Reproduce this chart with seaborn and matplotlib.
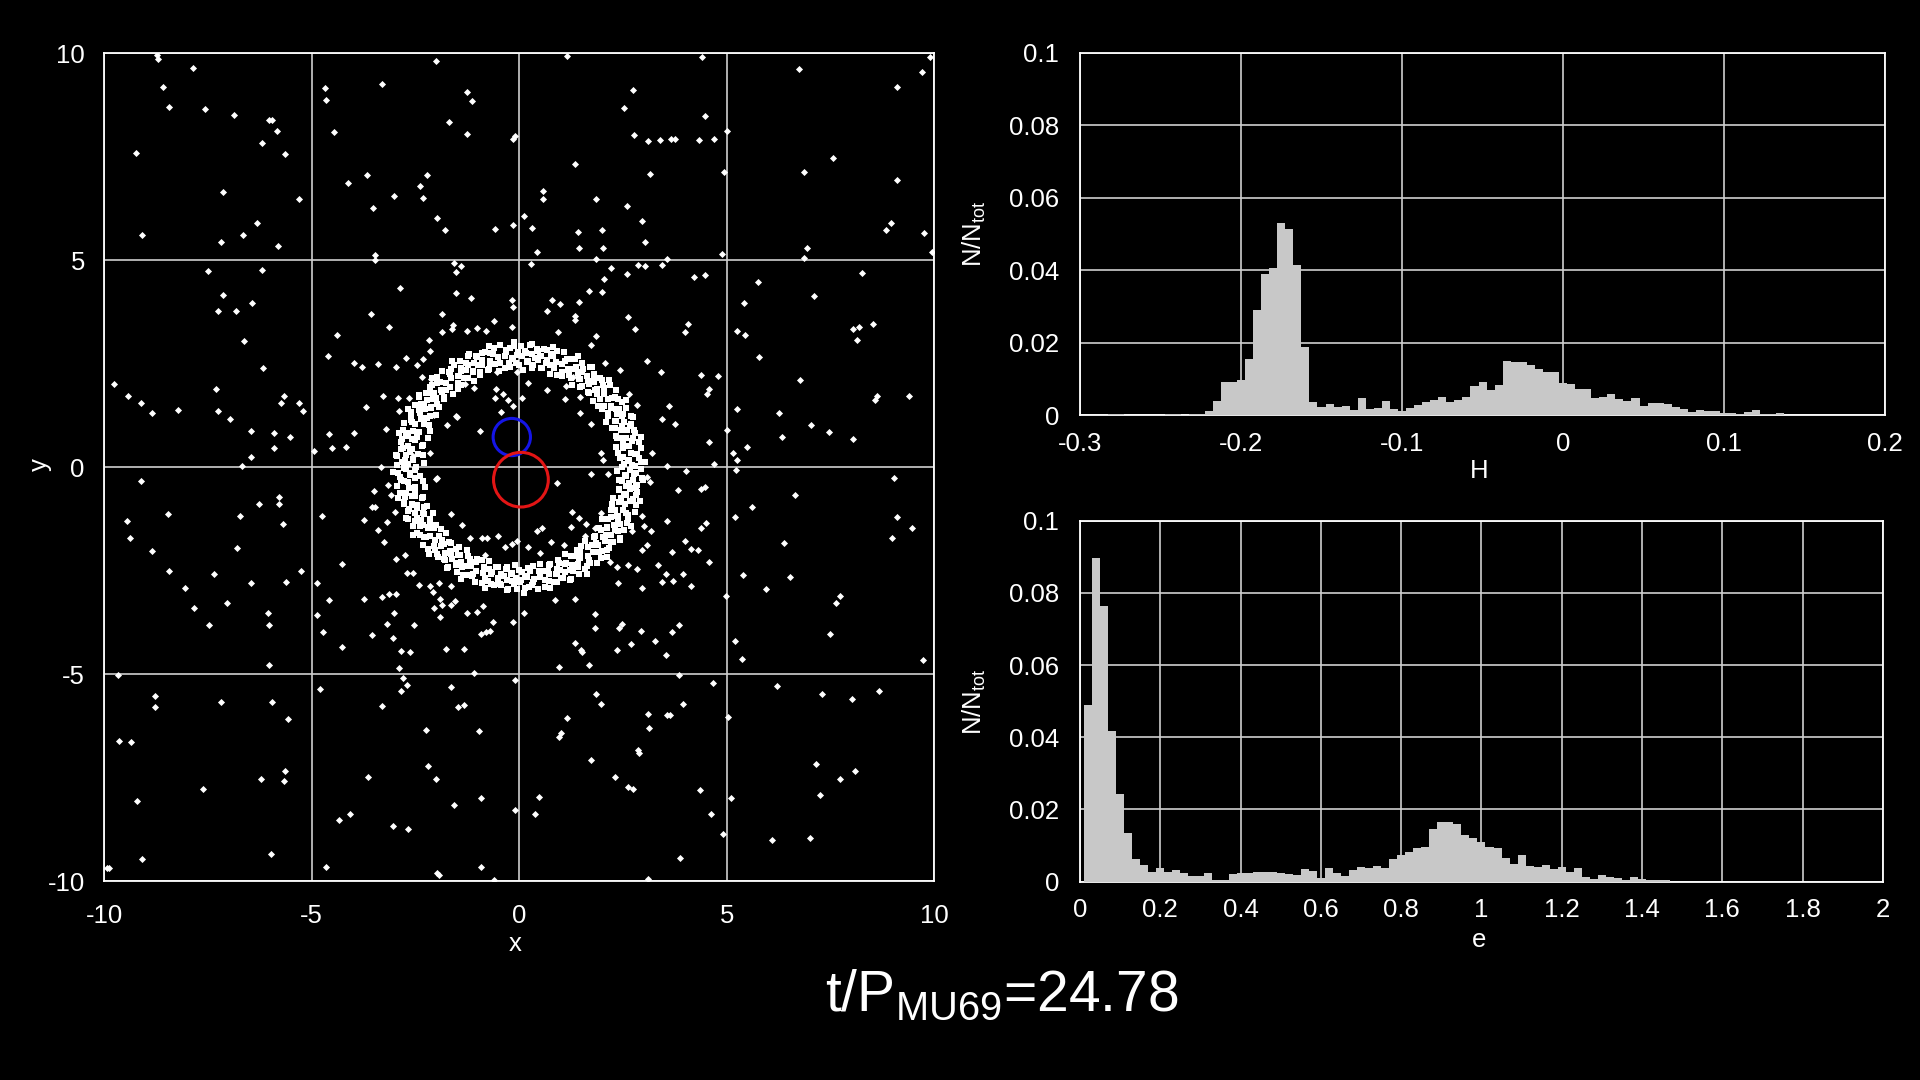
import numpy as np
import pandas as pd
import matplotlib
matplotlib.use("Agg")
import matplotlib.pyplot as plt
from matplotlib.patches import Circle
import seaborn as sns

# ---- histogram of H (bin width 0.005, centres -0.3 ... 0.2) ----
h_frac = [
    0, 0, 0, 0.0001, 0.0003, 0.0002, 0, 0, 0, 0,
    0, 0.0003, 0.0003, 0, 0.0003, 0.0003, 0.001, 0.004, 0.0092, 0.0092,
    0.0097, 0.0156, 0.029, 0.039, 0.0407, 0.0529, 0.0512, 0.0414, 0.0189, 0.0037,
    0.0023, 0.003, 0.0023, 0.0025, 0.0014, 0.0046, 0.0016, 0.002, 0.004, 0.0018,
    0.0012, 0.002, 0.0028, 0.0035, 0.0041, 0.0049, 0.0037, 0.0041, 0.0049, 0.008,
    0.0092, 0.007, 0.0083, 0.0148, 0.0145, 0.0147, 0.0138, 0.0126, 0.012, 0.012,
    0.0089, 0.0087, 0.0072, 0.0071, 0.0046, 0.0049, 0.0058, 0.0043, 0.004, 0.0048,
    0.0025, 0.0034, 0.0032, 0.003, 0.0021, 0.0016, 0.0008, 0.0014, 0.0012, 0.001,
    0.0006, 0.0006, 0.0002, 0.0008, 0.0014, 0.0003, 0.0003, 0.0005, 0, 0,
    0, 0, 0, 0, 0, 0, 0, 0, 0, 0, 0,
]
h_centers = np.linspace(-0.3, 0.2, 101)
h_edges = list(np.linspace(-0.3025, 0.2025, 102))

# ---- histogram of e (bin width 0.02, centres 0 ... 2) ----
e_frac = [
    0, 0.0489, 0.0895, 0.0764, 0.0417, 0.0242, 0.0134, 0.0062, 0.0046, 0.0028,
    0.0037, 0.0028, 0.0032, 0.0025, 0.0016, 0.0016, 0.0023, 0.0006, 0.0005, 0.0021,
    0.0023, 0.0025, 0.0027, 0.0026, 0.0026, 0.0023, 0.0021, 0.0019, 0.0034, 0.0029,
    0.0009, 0.0037, 0.0025, 0.0017, 0.0032, 0.0042, 0.0037, 0.0044, 0.0037, 0.0063,
    0.0074, 0.0083, 0.0092, 0.0097, 0.0145, 0.0164, 0.0166, 0.0159, 0.0129, 0.012,
    0.0111, 0.0097, 0.0094, 0.0067, 0.0049, 0.0074, 0.0043, 0.004, 0.0046, 0.0034,
    0.004, 0.0028, 0.0037, 0.0014, 0.0008, 0.0019, 0.0012, 0.0009, 0.0006, 0.0014,
    0.0008, 0.0006, 0.0005, 0.0005, 0, 0, 0, 0, 0, 0,
    0, 0, 0, 0, 0, 0, 0, 0, 0, 0,
    0, 0, 0, 0, 0, 0, 0, 0, 0, 0, 0,
]
e_centers = np.linspace(0, 2, 101)
e_edges = list(np.linspace(-0.01, 2.01, 102))

# ---- particles outside the dense ring (x, y) ----
field_pts = [
    (-8.74, 9.96), (-8.70, 9.86), (-7.86, 9.65), (-8.58, 9.19), (-8.43, 8.70), (-7.57, 8.65),
    (-6.87, 8.51), (-6.03, 8.39), (-5.97, 8.39), (-5.83, 8.11), (-6.19, 7.83), (-9.24, 7.60),
    (-5.65, 7.57), (-7.13, 6.64), (-5.31, 6.49), (-6.33, 5.91), (-9.10, 5.61), (-6.65, 5.61),
    (-7.19, 5.43), (-5.81, 5.34),
    (-2.01, 9.82), (-3.30, 9.26), (-4.68, 9.17), (-4.65, 8.86), (-1.25, 9.07), (-1.13, 8.84),
    (-1.69, 8.34), (-4.47, 8.09), (-1.27, 8.04), (-0.14, 7.92), (-0.10, 8.00), (-3.68, 7.06),
    (-4.12, 6.87), (-2.22, 7.06), (-2.38, 6.80), (-2.31, 6.51), (-3.03, 6.56), (-3.53, 6.26),
    (-1.98, 6.02), (-1.78, 5.74), (-0.58, 5.76), (-0.14, 5.84), (-3.48, 5.13), (-3.48, 5.00),
    (-7.49, 4.73), (-6.21, 4.76), (-7.13, 4.16), (-7.27, 3.78), (-6.83, 3.78), (-6.45, 3.96),
    (-6.63, 3.04), (-6.17, 2.39), (-9.76, 2.00), (-9.42, 1.73), (-9.12, 1.56), (-8.85, 1.30),
    (-8.22, 1.38), (-7.31, 1.88), (-7.25, 1.36), (-6.98, 1.16), (-5.68, 1.73), (-5.75, 1.55),
    (-5.30, 1.56), (-5.20, 1.36), (-6.47, 0.88), (-5.90, 0.83), (-5.53, 0.72), (-5.91, 0.46),
    (-6.47, 0.25), (-6.67, 0.03),
    (-1.57, 4.94), (-1.41, 4.86), (-1.53, 4.71), (-2.88, 4.33), (-1.53, 4.20), (-1.16, 4.08),
    (-0.18, 4.03), (-0.14, 3.86), (-3.57, 3.70), (-1.87, 3.71), (-3.13, 3.39), (-1.59, 3.44),
    (-1.62, 3.35), (-0.60, 3.53), (-0.18, 3.38), (-1.85, 3.26), (-1.27, 3.28), (-1.01, 3.36),
    (-0.81, 3.29), (-4.38, 3.19), (-2.18, 3.07), (-2.14, 2.81), (-4.60, 2.68), (-3.98, 2.53),
    (-3.78, 2.43), (-3.41, 2.50), (-2.96, 2.43), (-2.73, 2.63), (-2.46, 2.46), (-2.33, 2.62),
    (-2.13, 2.13), (-2.35, 2.19), (-3.28, 1.73), (-2.93, 1.67), (-2.65, 1.68), (-3.70, 1.46),
    (-2.90, 1.36), (-1.08, 1.91), (-1.31, 2.00), (-0.55, 1.88), (-0.39, 1.76), (-0.59, 1.67),
    (-0.27, 1.63), (-0.14, 1.49), (-0.43, 1.34), (0.07, 1.68), (-1.53, 1.24), (-1.75, 1.02),
    (-2.06, 1.26), (-0.95, 0.88), (-3.20, 0.93), (-4.58, 0.81), (-3.98, 0.82), (-4.18, 0.50),
    (-4.51, 0.46), (-4.94, 0.40), (-3.32, 0.00),
    (1.16, 9.94), (4.40, 9.92), (6.75, 9.62), (9.90, 9.92), (9.70, 9.54), (9.11, 9.18),
    (2.75, 9.11), (2.53, 8.67), (4.47, 8.49), (5.00, 8.11), (2.77, 8.02), (3.10, 7.89),
    (3.40, 7.91), (3.65, 7.94), (3.76, 7.94), (4.33, 7.91), (4.70, 7.94), (1.35, 7.32),
    (3.15, 7.09), (4.93, 7.14), (6.87, 7.14), (7.55, 7.46), (9.11, 6.94), (0.57, 6.67),
    (0.57, 6.47), (1.84, 6.47), (2.59, 6.30), (0.12, 6.06), (0.30, 5.79), (1.42, 5.69),
    (1.99, 5.74), (2.95, 5.94), (3.03, 5.43), (0.42, 5.21), (1.44, 5.29), (2.02, 5.29),
    (1.85, 5.04), (3.57, 5.04), (4.88, 5.14), (6.93, 5.29), (6.87, 5.06), (8.95, 5.89),
    (8.84, 5.72), (9.75, 5.67), (9.94, 5.19),
    (0.28, 4.92), (2.20, 4.81), (2.85, 4.89), (3.03, 4.86), (3.43, 4.89), (2.59, 4.66),
    (4.22, 4.59), (4.47, 4.65), (2.05, 4.55), (2.00, 4.24), (1.67, 4.26), (0.80, 4.03),
    (0.97, 3.95), (1.45, 3.99), (0.67, 3.78), (1.34, 3.66), (1.34, 3.56), (2.63, 3.64),
    (2.80, 3.33), (4.06, 3.45), (4.00, 3.26), (5.75, 4.47), (5.42, 3.96), (7.10, 4.14),
    (8.25, 4.69), (5.25, 3.29), (5.44, 3.20), (8.05, 3.33), (8.19, 3.38), (8.53, 3.46),
    (8.14, 3.07), (5.78, 2.66), (6.77, 2.10), (0.94, 3.27), (1.86, 3.17), (1.74, 2.95),
    (3.07, 2.57), (3.41, 2.30), (4.37, 2.23), (4.80, 2.21), (4.58, 1.88), (4.53, 1.76),
    (2.43, 2.35), (2.06, 2.51), (2.64, 1.78), (2.83, 1.51), (3.60, 1.48), (3.44, 1.16),
    (3.75, 1.05), (4.58, 0.60), (5.00, 0.89), (5.24, 1.41), (6.27, 1.30), (7.03, 1.01),
    (7.47, 0.84), (8.05, 0.68), (6.33, 0.72), (8.63, 1.72), (8.57, 1.63), (9.40, 1.73),
    (5.49, 0.50), (5.14, 0.34), (5.24, 0.18), (4.70, 0.08), (3.57, 0.03), (3.20, 0.34),
    (2.01, 0.18), (0.20, 2.03), (0.68, 1.87), (1.12, 1.97), (1.46, 1.32), (1.74, 1.04),
    (-9.11, -0.32), (-9.45, -1.30), (-9.37, -1.72), (-8.47, -1.13), (-8.85, -2.03), (-8.43, -2.51),
    (-8.06, -2.91), (-7.83, -3.41), (-7.48, -3.81), (-7.36, -2.58), (-7.05, -3.28), (-6.80, -1.95),
    (-6.74, -1.18), (-6.26, -0.88), (-5.80, -0.72), (-5.78, -0.88), (-5.70, -1.36), (-6.46, -2.80),
    (-5.63, -2.78), (-5.27, -2.51), (-6.06, -3.53), (-6.03, -3.81), (-6.03, -4.78), (-9.66, -5.01),
    (-8.77, -5.52), (-8.78, -5.79), (-7.19, -5.66), (-5.96, -5.66), (-5.58, -6.09), (-9.64, -6.61),
    (-9.36, -6.63), (-9.21, -8.06), (-9.08, -9.47), (-9.94, -9.69), (-9.88, -9.69), (-7.61, -7.77),
    (-6.22, -7.52), (-5.65, -7.34), (-5.67, -7.57), (-5.98, -9.34),
    (-4.76, -1.18), (-4.88, -2.80), (-4.58, -3.20), (-4.88, -3.57), (-4.72, -3.98), (-4.27, -4.33),
    (-4.26, -2.33), (-3.73, -1.28), (-3.51, -0.57), (-3.56, -0.97), (-3.48, -0.97), (-3.16, -0.43),
    (-3.08, -0.68), (-3.18, -1.33), (-3.41, -1.51), (-3.25, -1.80), (-3.00, -1.07), (-3.73, -3.18),
    (-3.30, -3.13), (-3.14, -3.05), (-2.96, -3.05), (-3.03, -3.53), (-3.18, -3.78), (-3.05, -4.13),
    (-3.56, -4.06), (-2.84, -4.43), (-2.64, -4.46), (-2.53, -3.81), (-2.98, -2.22), (-2.76, -2.11),
    (-2.71, -2.56), (-2.55, -2.56), (-2.41, -2.85), (-2.15, -2.88), (-2.07, -3.02), (-1.93, -2.80),
    (-1.65, -2.86), (-1.90, -3.19), (-2.05, -3.41), (-1.85, -3.33), (-1.65, -3.33), (-1.55, -3.24),
    (-1.90, -3.61), (-1.25, -3.53), (-1.03, -3.50), (-0.88, -3.36), (-0.63, -3.73), (-0.92, -4.03),
    (-0.79, -3.97), (-0.71, -3.95), (-0.14, -3.73), (0.11, -3.51), (-1.76, -4.38), (-1.33, -4.38),
    (-1.65, -1.13), (-1.38, -1.40), (-1.18, -1.70), (-0.89, -1.72), (-0.77, -1.72), (-0.52, -1.65),
    (-0.35, -1.92), (-0.18, -1.86), (-0.06, -1.78), (-0.83, -2.13), (-2.01, -0.28), (-2.90, -4.86),
    (-2.79, -5.08), (-2.84, -5.40), (-2.70, -5.26), (-1.09, -4.98), (-0.10, -5.14), (-4.80, -5.35),
    (-3.30, -5.76), (-1.65, -5.31), (-1.47, -5.78), (-1.33, -5.74), (-2.25, -6.34), (-0.96, -6.38),
    (-2.21, -7.21), (-2.01, -7.54), (-3.65, -7.49), (-0.91, -7.98), (-1.58, -8.16), (-0.10, -8.29),
    (-4.35, -8.53), (-4.07, -8.37), (-3.05, -8.66), (-2.67, -8.74), (-4.65, -9.66), (-1.98, -9.79),
    (-1.93, -9.84), (-0.93, -9.66), (-0.60, -9.97),
    (1.73, -0.17), (0.90, -0.37), (2.14, -0.17), (3.15, -0.36), (3.07, -0.23), (4.02, -0.09),
    (3.82, -0.55), (4.37, -0.52), (4.48, -0.47), (5.22, -0.07), (5.20, -1.20), (5.62, -0.95),
    (6.65, -0.67), (9.03, -0.27), (9.10, -1.21), (9.47, -1.47), (8.97, -1.70), (6.38, -1.82),
    (5.40, -2.60), (6.53, -2.65), (5.94, -2.95), (4.97, -3.12), (7.73, -3.11), (7.62, -3.27),
    (7.49, -4.03), (5.20, -4.20), (5.37, -4.62), (9.73, -4.65), (2.95, -1.17), (3.00, -1.42),
    (3.17, -1.53), (2.72, -1.55), (3.57, -1.30), (4.37, -1.47), (4.50, -1.35), (4.00, -1.77),
    (4.13, -1.97), (4.30, -2.00), (4.58, -2.30), (3.67, -2.05), (2.95, -2.00), (3.08, -1.88),
    (3.35, -2.37), (3.53, -2.57), (3.94, -2.58), (3.45, -2.77), (3.70, -2.75), (4.13, -2.87),
    (2.95, -2.92), (2.83, -2.45), (2.63, -2.37), (2.35, -2.40), (2.37, -2.80), (2.18, -2.28),
    (1.45, -1.22), (1.25, -1.45), (1.62, -1.38), (1.82, -1.46), (1.58, -1.66), (1.08, -1.88),
    (0.76, -1.80), (0.50, -2.08), (0.20, -1.92), (0.42, -1.55), (0.54, -1.46), (0.86, -3.20),
    (1.35, -3.18), (1.82, -3.55), (1.82, -3.88), (2.41, -3.88), (2.47, -3.78), (2.93, -3.95),
    (3.28, -4.20), (3.67, -3.99), (3.85, -3.81), (2.70, -4.26), (2.35, -4.42), (3.53, -4.53),
    (1.34, -4.25), (1.49, -4.41), (1.52, -4.47), (0.96, -4.83), (1.69, -4.78), (3.85, -5.01),
    (4.67, -5.21), (1.84, -5.48), (1.96, -5.73), (1.15, -6.06), (1.00, -6.41), (0.95, -6.51),
    (3.10, -5.97), (3.57, -5.98), (3.64, -5.98), (3.95, -5.73), (3.13, -6.29), (2.87, -6.84),
    (2.88, -6.91), (1.74, -7.06), (2.31, -7.49), (2.63, -7.73), (2.73, -7.78), (4.35, -7.79),
    (5.04, -6.03), (5.10, -7.98), (6.22, -5.28), (7.30, -5.48), (8.02, -5.60), (8.67, -5.40),
    (7.15, -7.16), (7.73, -7.52), (8.10, -7.34), (7.24, -7.92), (4.62, -8.37), (4.92, -8.86),
    (6.10, -9.01), (7.00, -8.96), (0.47, -7.96), (0.39, -8.38), (3.87, -9.43), (3.09, -9.94),
    (-1.99, -0.27), (-2.15, 0.34), (-1.51, 1.22), (-0.06, 2.31), (-0.54, 2.31), (1.30, 2.18),
    (1.10, 1.66), (1.46, 1.70), (1.98, 0.34), (1.98, -1.11), (1.26, -1.07), (-2.55, 0.26),
]

# ---- dense ring of particles, first set: polar angle (deg) and radius ----
ring_a_deg = [
    0.4, 1.6, 2.7, 3.8, 5.1, 6.3, 7.5, 8.8,
    10.9, 12.1, 13.3, 14.4, 15.6, 16.9, 18.0, 19.3,
    20.2, 21.3, 22.4, 23.6, 24.8, 25.9, 27.2, 28.4,
    30.4, 31.6, 32.7, 33.8, 35.1, 36.3, 37.5, 38.8,
    40.9, 42.1, 43.3, 44.4, 45.6, 46.9, 48.0, 49.3,
    50.2, 51.3, 52.4, 53.6, 54.8, 55.9, 57.2, 58.4,
    60.4, 61.6, 62.7, 63.8, 65.1, 66.3, 67.5, 68.8,
    70.9, 72.1, 73.3, 74.4, 75.6, 76.9, 78.0, 79.3,
    80.2, 81.3, 82.4, 83.6, 84.8, 85.9, 87.2, 88.4,
    90.4, 91.6, 92.7, 93.8, 95.1, 96.3, 97.5, 98.8,
    100.9, 102.1, 103.3, 104.4, 105.6, 106.9, 108.0, 109.3,
    110.2, 111.3, 112.4, 113.6, 114.8, 115.9, 117.2, 118.4,
    120.4, 121.6, 122.7, 123.8, 125.1, 126.3, 127.5, 128.8,
    130.9, 132.1, 133.3, 134.4, 135.6, 136.9, 138.0, 139.3,
    140.2, 141.3, 142.4, 143.6, 144.8, 145.9, 147.2, 148.4,
    150.4, 151.6, 152.7, 153.8, 155.1, 156.3, 157.5, 158.8,
    160.9, 162.1, 163.3, 164.4, 165.6, 166.9, 168.0, 169.3,
    170.2, 171.3, 172.4, 173.6, 174.8, 175.9, 177.2, 178.4,
    180.4, 181.6, 182.7, 183.8, 185.1, 186.3, 187.5, 188.8,
    190.9, 192.1, 193.3, 194.4, 195.6, 196.9, 198.0, 199.3,
    200.2, 201.3, 202.4, 203.6, 204.8, 205.9, 207.2, 208.4,
    210.4, 211.6, 212.7, 213.8, 215.1, 216.3, 217.5, 218.8,
    220.9, 222.1, 223.3, 224.4, 225.6, 226.9, 228.0, 229.3,
    230.2, 231.3, 232.4, 233.6, 234.8, 235.9, 237.2, 238.4,
    240.4, 241.6, 242.7, 243.8, 245.1, 246.3, 247.5, 248.8,
    250.9, 252.1, 253.3, 254.4, 255.6, 256.9, 258.0, 259.3,
    260.2, 261.3, 262.4, 263.6, 264.8, 265.9, 267.2, 268.4,
    270.4, 271.6, 272.7, 273.8, 275.1, 276.3, 277.5, 278.8,
    280.9, 282.1, 283.3, 284.4, 285.6, 286.9, 288.0, 289.3,
    290.2, 291.3, 292.4, 293.6, 294.8, 295.9, 297.2, 298.4,
    300.4, 301.6, 302.7, 303.8, 305.1, 306.3, 307.5, 308.8,
    310.9, 312.1, 313.3, 314.4, 315.6, 316.9, 318.0, 319.3,
    320.2, 321.3, 322.4, 323.6, 324.8, 325.9, 327.2, 328.4,
    330.4, 331.6, 332.7, 333.8, 335.1, 336.3, 337.5, 338.8,
    340.9, 342.1, 343.3, 344.4, 345.6, 346.9, 348.0, 349.3,
    350.2, 351.3, 352.4, 353.6, 354.8, 355.9, 357.2, 358.4,
]
ring_a_r = [
    2.78, 2.52, 2.93, 2.65, 2.44, 2.86, 2.71, 2.98,
    2.70, 2.95, 2.57, 2.84, 2.60, 2.47, 2.91, 2.74,
    2.62, 2.88, 2.49, 2.75, 2.96, 2.56, 2.82, 2.68,
    2.78, 2.52, 2.93, 2.65, 2.44, 2.86, 2.71, 2.98,
    2.70, 2.95, 2.57, 2.84, 2.60, 2.47, 2.91, 2.74,
    2.62, 2.88, 2.49, 2.75, 2.96, 2.56, 2.82, 2.68,
    2.78, 2.52, 2.93, 2.65, 2.44, 2.86, 2.71, 2.98,
    2.70, 2.95, 2.57, 2.84, 2.60, 2.47, 2.91, 2.74,
    2.62, 2.88, 2.49, 2.75, 2.96, 2.56, 2.82, 2.68,
    2.78, 2.52, 2.93, 2.65, 2.44, 2.86, 2.71, 2.98,
    2.70, 2.95, 2.57, 2.84, 2.60, 2.47, 2.91, 2.74,
    2.62, 2.88, 2.49, 2.75, 2.96, 2.56, 2.82, 2.68,
    2.78, 2.52, 2.93, 2.65, 2.44, 2.86, 2.71, 2.98,
    2.70, 2.95, 2.57, 2.84, 2.60, 2.47, 2.91, 2.74,
    2.62, 2.88, 2.49, 2.75, 2.96, 2.56, 2.82, 2.68,
    2.78, 2.52, 2.93, 2.65, 2.40, 2.86, 2.71, 2.98,
    2.70, 2.95, 2.57, 2.84, 2.60, 2.38, 2.91, 2.74,
    2.62, 2.88, 2.45, 2.75, 2.96, 2.56, 2.82, 2.68,
    2.78, 2.52, 2.93, 2.65, 2.41, 2.86, 2.71, 2.98,
    2.70, 2.95, 2.57, 2.84, 2.60, 2.43, 2.91, 2.74,
    2.62, 2.88, 2.49, 2.75, 2.96, 2.56, 2.82, 2.68,
    2.78, 2.52, 2.93, 2.65, 2.44, 2.86, 2.71, 2.98,
    2.70, 2.95, 2.57, 2.84, 2.60, 2.47, 2.91, 2.74,
    2.62, 2.88, 2.49, 2.75, 2.96, 2.56, 2.82, 2.68,
    2.78, 2.52, 2.93, 2.65, 2.44, 2.86, 2.71, 2.98,
    2.70, 2.95, 2.57, 2.84, 2.60, 2.47, 2.91, 2.74,
    2.62, 2.88, 2.49, 2.75, 2.96, 2.56, 2.82, 2.68,
    2.78, 2.52, 2.93, 2.65, 2.44, 2.86, 2.71, 2.98,
    2.70, 2.95, 2.57, 2.84, 2.60, 2.47, 2.91, 2.74,
    2.62, 2.88, 2.49, 2.75, 2.96, 2.56, 2.82, 2.68,
    2.78, 2.52, 2.93, 2.65, 2.44, 2.86, 2.71, 2.98,
    2.70, 2.95, 2.57, 2.84, 2.60, 2.47, 2.91, 2.74,
    2.62, 2.88, 2.49, 2.75, 2.96, 2.56, 2.82, 2.68,
    2.78, 2.52, 2.93, 2.65, 2.44, 2.86, 2.71, 2.98,
    2.70, 2.95, 2.57, 2.84, 2.60, 2.47, 2.91, 2.74,
    2.62, 2.88, 2.49, 2.75, 2.96, 2.56, 2.82, 2.68,
]

# ---- dense ring of particles, second set: polar angle (deg) and radius ----
ring_b_deg = [
    0.0, 1.1, 2.3, 3.2, 4.5, 5.7, 6.8, 8.1,
    10.6, 11.9, 13.0, 14.2, 15.3, 16.6, 17.8, 19.0,
    20.7, 21.8, 22.9, 24.1, 25.4, 26.5, 27.7, 29.1,
    30.0, 31.1, 32.3, 33.2, 34.5, 35.7, 36.8, 38.1,
    40.6, 41.9, 43.0, 44.2, 45.3, 46.6, 47.8, 49.0,
    50.7, 51.8, 52.9, 54.1, 55.4, 56.5, 57.7, 59.1,
    60.0, 61.1, 62.3, 63.2, 64.5, 65.7, 66.8, 68.1,
    70.6, 71.9, 73.0, 74.2, 75.3, 76.6, 77.8, 79.0,
    80.7, 81.8, 82.9, 84.1, 85.4, 86.5, 87.7, 89.1,
    90.0, 91.1, 92.3, 93.2, 94.5, 95.7, 96.8, 98.1,
    100.6, 101.9, 103.0, 104.2, 105.3, 106.6, 107.8, 109.0,
    110.7, 111.8, 112.9, 114.1, 115.4, 116.5, 117.7, 119.1,
    120.0, 121.1, 122.3, 123.2, 124.5, 125.7, 126.8, 128.1,
    130.6, 131.9, 133.0, 134.2, 135.3, 136.6, 137.8, 139.0,
    140.7, 141.8, 142.9, 144.1, 145.4, 146.5, 147.7, 149.1,
    150.0, 151.1, 152.3, 153.2, 154.5, 155.7, 156.8, 158.1,
    160.6, 161.9, 163.0, 164.2, 165.3, 166.6, 167.8, 169.0,
    170.7, 171.8, 172.9, 174.1, 175.4, 176.5, 177.7, 179.1,
    180.0, 181.1, 182.3, 183.2, 184.5, 185.7, 186.8, 188.1,
    190.6, 191.9, 193.0, 194.2, 195.3, 196.6, 197.8, 199.0,
    200.7, 201.8, 202.9, 204.1, 205.4, 206.5, 207.7, 209.1,
    210.0, 211.1, 212.3, 213.2, 214.5, 215.7, 216.8, 218.1,
    220.6, 221.9, 223.0, 224.2, 225.3, 226.6, 227.8, 229.0,
    230.7, 231.8, 232.9, 234.1, 235.4, 236.5, 237.7, 239.1,
    240.0, 241.1, 242.3, 243.2, 244.5, 245.7, 246.8, 248.1,
    250.6, 251.9, 253.0, 254.2, 255.3, 256.6, 257.8, 259.0,
    260.7, 261.8, 262.9, 264.1, 265.4, 266.5, 267.7, 269.1,
    270.0, 271.1, 272.3, 273.2, 274.5, 275.7, 276.8, 278.1,
    280.6, 281.9, 283.0, 284.2, 285.3, 286.6, 287.8, 289.0,
    290.7, 291.8, 292.9, 294.1, 295.4, 296.5, 297.7, 299.1,
    300.0, 301.1, 302.3, 303.2, 304.5, 305.7, 306.8, 308.1,
    310.6, 311.9, 313.0, 314.2, 315.3, 316.6, 317.8, 319.0,
    320.7, 321.8, 322.9, 324.1, 325.4, 326.5, 327.7, 329.1,
    330.0, 331.1, 332.3, 333.2, 334.5, 335.7, 336.8, 338.1,
    340.6, 341.9, 343.0, 344.2, 345.3, 346.6, 347.8, 349.0,
    350.7, 351.8, 352.9, 354.1, 355.4, 356.5, 357.7, 359.1,
]
ring_b_r = [
    2.48, 2.72, 3.04, 2.63, 2.89, 2.52, 2.80, 2.41,
    2.55, 2.38, 2.80, 3.02, 2.67, 2.90, 2.46, 2.73,
    2.85, 2.66, 2.42, 2.99, 2.58, 2.76, 2.36, 2.94,
    2.48, 2.72, 3.04, 2.63, 2.89, 2.52, 2.80, 2.41,
    2.55, 2.38, 2.80, 3.02, 2.67, 2.90, 2.46, 2.73,
    2.85, 2.66, 2.42, 2.99, 2.58, 2.76, 2.36, 2.94,
    2.48, 2.72, 3.04, 2.63, 2.89, 2.52, 2.80, 2.41,
    2.55, 2.38, 2.80, 3.02, 2.67, 2.90, 2.46, 2.73,
    2.85, 2.66, 2.42, 2.99, 2.58, 2.76, 2.36, 2.94,
    2.48, 2.72, 3.04, 2.63, 2.89, 2.52, 2.80, 2.41,
    2.55, 2.38, 2.80, 3.02, 2.67, 2.90, 2.46, 2.73,
    2.85, 2.66, 2.42, 2.99, 2.58, 2.76, 2.36, 2.94,
    2.48, 2.72, 3.04, 2.63, 2.89, 2.52, 2.80, 2.41,
    2.55, 2.38, 2.80, 3.02, 2.67, 2.90, 2.46, 2.73,
    2.85, 2.66, 2.42, 2.99, 2.58, 2.76, 2.36, 2.94,
    2.48, 2.72, 3.04, 2.63, 2.89, 2.52, 2.80, 2.33,
    2.55, 2.31, 2.80, 3.02, 2.67, 2.90, 2.40, 2.73,
    2.85, 2.66, 2.34, 2.99, 2.58, 2.76, 2.30, 2.94,
    2.48, 2.72, 3.04, 2.63, 2.89, 2.52, 2.80, 2.35,
    2.55, 2.32, 2.80, 3.02, 2.67, 2.90, 2.46, 2.73,
    2.85, 2.66, 2.42, 2.99, 2.58, 2.76, 2.36, 2.94,
    2.48, 2.72, 3.04, 2.63, 2.89, 2.52, 2.80, 2.41,
    2.55, 2.38, 2.80, 3.02, 2.67, 2.90, 2.46, 2.73,
    2.85, 2.66, 2.42, 2.99, 2.58, 2.76, 2.36, 2.94,
    2.48, 2.72, 3.04, 2.63, 2.89, 2.52, 2.80, 2.41,
    2.55, 2.38, 2.80, 3.02, 2.67, 2.90, 2.46, 2.73,
    2.85, 2.66, 2.42, 2.99, 2.58, 2.76, 2.36, 2.94,
    2.48, 2.72, 3.04, 2.63, 2.89, 2.52, 2.80, 2.41,
    2.55, 2.38, 2.80, 3.02, 2.67, 2.90, 2.46, 2.73,
    2.85, 2.66, 2.42, 2.99, 2.58, 2.76, 2.36, 2.94,
    2.48, 2.72, 3.04, 2.63, 2.89, 2.52, 2.80, 2.41,
    2.55, 2.38, 2.80, 3.02, 2.67, 2.90, 2.46, 2.73,
    2.85, 2.66, 2.42, 2.99, 2.58, 2.76, 2.36, 2.94,
    2.48, 2.72, 3.04, 2.63, 2.89, 2.52, 2.80, 2.41,
    2.55, 2.38, 2.80, 3.02, 2.67, 2.90, 2.46, 2.73,
    2.85, 2.66, 2.42, 2.99, 2.58, 2.76, 2.36, 2.94,
]

# ---- the two bodies (centre x, centre y, radius) ----
blue_body = (-0.18, 0.73, 0.45)
red_body = (0.04, -0.30, 0.66)

xy_ticks = [-10, -5, 0, 5, 10]
h_ticks = [-0.3, -0.2, -0.1, 0, 0.1, 0.2]
h_ticklabels = ["-0.3", "-0.2", "-0.1", "0", "0.1", "0.2"]
e_ticks = [0, 0.2, 0.4, 0.6, 0.8, 1.0, 1.2, 1.4, 1.6, 1.8, 2.0]
e_ticklabels = ["0", "0.2", "0.4", "0.6", "0.8", "1", "1.2", "1.4", "1.6", "1.8", "2"]
n_ticks = [0, 0.02, 0.04, 0.06, 0.08, 0.1]
n_ticklabels = ["0", "0.02", "0.04", "0.06", "0.08", "0.1"]
title_text = r"t/P$_{\mathregular{MU69}}$=24.78"

sns.set_theme(style="dark", rc={
    "figure.facecolor": "black",
    "axes.facecolor": "black",
    "axes.edgecolor": "white",
    "axes.linewidth": 1.3,
    "text.color": "white",
    "xtick.color": "white",
    "ytick.color": "white",
    "grid.color": "#cfcfcf",
    "grid.linewidth": 1.2,
    "axes.unicode_minus": False,
})
plt.rcParams["font.family"] = ["Liberation Sans", "DejaVu Sans"]
plt.rcParams["mathtext.fontset"] = "custom"
plt.rcParams["mathtext.rm"] = "Liberation Sans"

TICK_FS = 18.5
GRID_KW = dict(color="#cfcfcf", linewidth=1.2)

fig = plt.figure(figsize=(19.2, 10.8), dpi=100)

# ------------------------------------------------------------ scatter (x, y)
ax = fig.add_axes([0.0543, 0.184, 0.4323, 0.7667])
field = pd.DataFrame(field_pts, columns=["x", "y"])
ring_deg = ring_a_deg + ring_b_deg
ring_r = np.array(ring_a_r + ring_b_r)
theta = np.radians(ring_deg)
ring = pd.DataFrame({"x": ring_r * np.cos(theta), "y": ring_r * np.sin(theta)})

sns.scatterplot(data=ring, x="x", y="y", ax=ax, color="white", s=16, marker="s",
                linewidth=0, legend=False, zorder=3)
sns.scatterplot(data=field, x="x", y="y", ax=ax, color="white", s=13, marker="D",
                linewidth=0, legend=False, zorder=3)
ax.add_patch(Circle(blue_body[:2], blue_body[2], fill=False, ec="#1515e6", lw=2.2, zorder=4))
ax.add_patch(Circle(red_body[:2], red_body[2], fill=False, ec="#e31515", lw=2.2, zorder=5))

ax.set_xlim(-10, 10)
ax.set_ylim(-10, 10)
ax.set_xticks(xy_ticks)
ax.set_yticks(xy_ticks)
ax.set_xticklabels([str(t) for t in xy_ticks])
ax.set_yticklabels([str(t) for t in xy_ticks])
ax.grid(True, **GRID_KW)
ax.set_axisbelow(True)
ax.tick_params(axis="x", length=0, pad=16, labelsize=TICK_FS)
ax.tick_params(axis="y", length=0, pad=14, labelsize=TICK_FS)
ax.set_xlabel("")
ax.set_ylabel("")
for sp in ax.spines.values():
    sp.set_color("white")
    sp.set_linewidth(1.3)
fig.text(515 / 1920, 1 - 944 / 1080, "x", fontsize=TICK_FS, ha="center", va="center")
fig.text(40 / 1920, 1 - 465 / 1080, "y", fontsize=TICK_FS, ha="center", va="center", rotation=90)

# ------------------------------------------------------------ histogram of H
h_df = pd.DataFrame({"H": h_centers, "frac": h_frac})
axh = fig.add_axes([0.5625, 0.6157, 0.4193, 0.3356])
sns.histplot(data=h_df, x="H", weights="frac", bins=h_edges, ax=axh, color="#c8c8c8",
             alpha=1, linewidth=0, element="bars", zorder=3)
axh.set_xlim(-0.3, 0.2)
axh.set_ylim(0, 0.1)
axh.set_xticks(h_ticks)
axh.set_xticklabels(h_ticklabels)
axh.set_yticks(n_ticks)
axh.set_yticklabels(n_ticklabels)

# ------------------------------------------------------------ histogram of e
e_df = pd.DataFrame({"e": e_centers, "frac": e_frac})
axe = fig.add_axes([0.5625, 0.1836, 0.4182, 0.3344])
sns.histplot(data=e_df, x="e", weights="frac", bins=e_edges, ax=axe, color="#c8c8c8",
             alpha=1, linewidth=0, element="bars", zorder=3)
axe.set_xlim(0, 2)
axe.set_ylim(0, 0.1)
axe.set_xticks(e_ticks)
axe.set_xticklabels(e_ticklabels)
axe.set_yticks(n_ticks)
axe.set_yticklabels(n_ticklabels)

for a in (axh, axe):
    a.grid(True, **GRID_KW)
    a.set_axisbelow(True)
    a.tick_params(axis="x", length=0, pad=12, labelsize=TICK_FS)
    a.tick_params(axis="y", length=0, pad=15, labelsize=TICK_FS)
    a.set_xlabel("")
    a.set_ylabel("")
    for sp in a.spines.values():
        sp.set_color("white")
        sp.set_linewidth(1.3)

fig.text(1479 / 1920, 1 - 471 / 1080, "H", fontsize=TICK_FS, ha="center", va="center")
fig.text(1479 / 1920, 1 - 940 / 1080, "e", fontsize=TICK_FS, ha="center", va="center")
fig.text(974 / 1920, 1 - 234 / 1080, r"N/N$_{\mathregular{tot}}$", fontsize=TICK_FS,
         ha="center", va="center", rotation=90)
fig.text(974 / 1920, 1 - 702 / 1080, r"N/N$_{\mathregular{tot}}$", fontsize=TICK_FS,
         ha="center", va="center", rotation=90)

fig.text(1002 / 1920, 1 - 1011 / 1080, title_text, fontsize=41, ha="center", va="baseline")

fig.savefig("out.png", dpi=100, facecolor="black")
